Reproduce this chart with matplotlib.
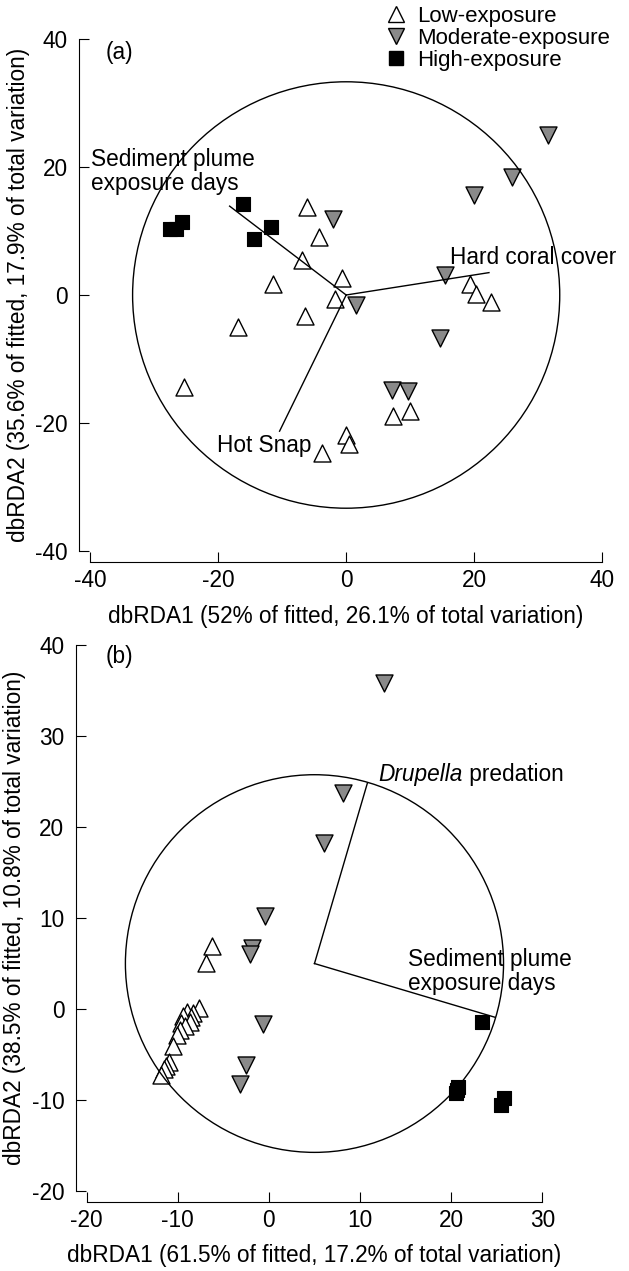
import matplotlib
matplotlib.use("Agg")
import matplotlib.pyplot as plt
from matplotlib.patches import Circle
from matplotlib.lines import Line2D

plt.rcParams['font.family'] = ['Liberation Sans', 'DejaVu Sans']
plt.rcParams['font.size'] = 16.3
plt.rcParams['axes.unicode_minus'] = False

# ---- panel (a) site scores
a_low_x = [-6.1, -4.3, -6.9, -0.7, -11.5, -1.7, 19.4, 20.3, 22.6, -6.4, -16.9,
           -25.3, 7.3, 9.9, -0.1, 0.5, -3.7]
a_low_y = [13.7, 9.0, 5.5, 2.7, 1.7, -0.7, 1.7, 0.2, -1.1, -3.3, -5.0,
           -14.4, -18.9, -18.2, -21.9, -23.3, -24.7]
a_mod_x = [31.5, 25.9, 20.0, -2.1, 15.4, 1.5, 14.7, 7.1, 9.7]
a_mod_y = [25.0, 18.4, 15.6, 11.9, 3.2, -1.6, -6.8, -14.8, -15.0]
a_high_x = [-16.1, -11.7, -14.4, -27.5, -26.5, -25.6]
a_high_y = [14.3, 10.7, 8.8, 10.4, 10.4, 11.4]

# vectors (a): all start at origin
a_vec_names = ["Sediment plume\nexposure days", "Hard coral cover", "Hot Snap"]
a_vec_x = [-18.2, 22.3, -10.4]
a_vec_y = [13.9, 3.5, -21.3]
a_lab_x = [-39.9, 16.2, -20.2]
a_lab_y = [19.3, 5.9, -23.5]
a_circle_r = 33.35

# ---- panel (b) site scores
b_low_x = [-6.2, -6.9, -7.7, -8.3, -9.0, -8.6, -9.4, -8.7, -9.6, -9.2, -9.8,
           -10.1, -10.5, -11.0, -11.3, -11.5, -11.8]
b_low_y = [6.9, 5.1, 0.1, -0.4, -0.3, -0.9, -0.8, -1.4, -1.5, -1.9, -2.3,
           -2.9, -4.1, -5.8, -6.3, -6.6, -7.2]
b_mod_x = [12.6, 8.1, 6.0, -0.4, -1.9, -2.1, -0.7, -2.5, -3.2]
b_mod_y = [35.8, 23.7, 18.2, 10.2, 6.7, 6.1, -1.6, -6.1, -8.2]
b_high_x = [23.4, 20.7, 20.5, 20.6, 25.8, 25.5]
b_high_y = [-1.4, -8.6, -9.2, -8.9, -9.8, -10.5]

b_center = (5, 5)
b_vec_x = [10.8, 24.8]
b_vec_y = [24.8, -0.9]
b_circle_r = 20.75

labels = ["Low-exposure", "Moderate-exposure", "High-exposure"]
gray = "#8a8a8a"

fig = plt.figure(figsize=(6.29, 12.71), dpi=100)
ax1 = fig.add_axes([0.1431, 0.5667, 0.8145, 0.4024])
ax2 = fig.add_axes([0.1378, 0.0629, 0.7243, 0.4296])


def draw_points(ax, lx, ly, mx, my, hx, hy):
    ax.scatter(lx, ly, marker='^', s=150, facecolor='white', edgecolor='black',
               linewidths=1.0, zorder=2)
    ax.scatter(mx, my, marker='v', s=150, facecolor=gray, edgecolor='black',
               linewidths=1.0, zorder=2)
    ax.scatter(hx, hy, marker='s', s=105, facecolor='black', edgecolor='black',
               linewidths=0.8, zorder=2)


def style(ax):
    for s in ['top', 'right']:
        ax.spines[s].set_visible(False)
    for s in ['left', 'bottom']:
        ax.spines[s].set_position(('outward', 8))
        ax.spines[s].set_linewidth(0.8)
    ax.tick_params(direction='in', length=7.5, width=0.8)
    ax.tick_params(axis='y', pad=8)
    ax.tick_params(axis='x', pad=5)


# panel (a)
draw_points(ax1, a_low_x, a_low_y, a_mod_x, a_mod_y, a_high_x, a_high_y)
ax1.add_patch(Circle((0, 0), a_circle_r, fill=False, lw=1.0, color='black', zorder=3))
for name, vx, vy, tx, ty in zip(a_vec_names, a_vec_x, a_vec_y, a_lab_x, a_lab_y):
    ax1.plot([0, vx], [0, vy], color='black', lw=1.0, zorder=3)
    ax1.text(tx, ty, name, ha='left', va='center', linespacing=1.05, zorder=4)
ax1.text(-37.6, 38.0, "(a)", ha='left', va='center')
ax1.set_xlim(-40, 40)
ax1.set_ylim(-40, 40)
ax1.set_xticks([-40, -20, 0, 20, 40])
ax1.set_yticks([-40, -20, 0, 20, 40])
ax1.set_xlabel("dbRDA1 (52% of fitted, 26.1% of total variation)", labelpad=9.5)
ax1.set_ylabel("dbRDA2 (35.6% of fitted, 17.9% of total variation)", labelpad=4)
style(ax1)

# panel (b)
draw_points(ax2, b_low_x, b_low_y, b_mod_x, b_mod_y, b_high_x, b_high_y)
ax2.add_patch(Circle(b_center, b_circle_r, fill=False, lw=1.0, color='black', zorder=3))
for vx, vy in zip(b_vec_x, b_vec_y):
    ax2.plot([b_center[0], vx], [b_center[1], vy], color='black', lw=1.0, zorder=3)
t = ax2.text(12.0, 25.8, "Drupella", style='italic', ha='left', va='center', zorder=4)
ax2.annotate(" predation", xy=(1, 0), xycoords=t, va='bottom', ha='left')
ax2.text(15.3, 4.15, "Sediment plume\nexposure days", ha='left', va='center',
         linespacing=1.05, zorder=4)
ax2.text(-17.9, 38.7, "(b)", ha='left', va='center')
ax2.set_xlim(-20, 30)
ax2.set_ylim(-20, 40)
ax2.set_xticks([-20, -10, 0, 10, 20, 30])
ax2.set_yticks([-20, -10, 0, 10, 20, 30, 40])
ax2.set_xlabel("dbRDA1 (61.5% of fitted, 17.2% of total variation)", labelpad=8.5)
ax2.set_ylabel("dbRDA2 (38.5% of fitted, 10.8% of total variation)", labelpad=4)
style(ax2)

# legend
handles = [
    Line2D([], [], ls='none', marker='^', ms=12, mfc='white', mec='black', mew=1.0),
    Line2D([], [], ls='none', marker='v', ms=12, mfc=gray, mec='black', mew=1.0),
    Line2D([], [], ls='none', marker='s', ms=10, mfc='black', mec='black'),
]
fig.legend(handles, labels, loc='upper left', bbox_to_anchor=(385 / 629, 1 - 6 / 1271),
           frameon=False, borderpad=0, borderaxespad=0, handlelength=1.0,
           handletextpad=0.45, labelspacing=0.05, fontsize=16)

fig.savefig("out.png", dpi=100)
